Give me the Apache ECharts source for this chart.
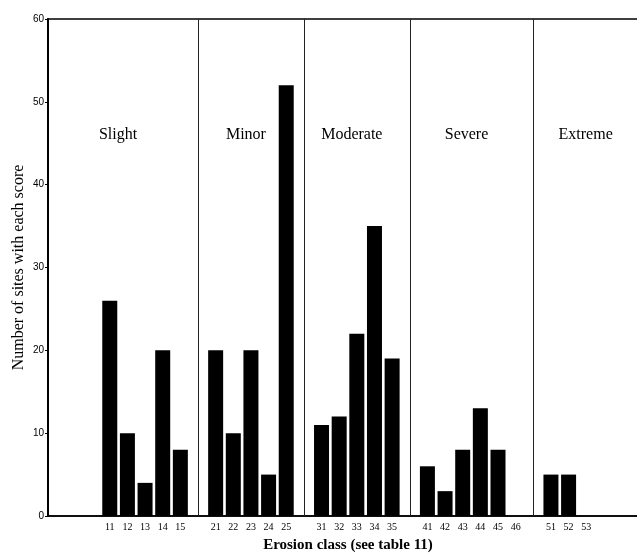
<!DOCTYPE html>
<html lang="en">
<head>
    <meta charset="utf-8" />
    <title>Erosion class</title>
    <script type="text/javascript" src="https://cdn.jsdelivr.net/npm/echarts@6/dist/echarts.min.js"></script>
    <style type="text/css">
        body { margin: 0; background: #fff; }
    </style>
</head>
<body>
    <div id="main" style="width:637px;height:557px;"></div>

    <script type="text/javascript">
        // erosion groups, the class codes in each, and the site counts
        var groupNames = ['Slight', 'Minor', 'Moderate', 'Severe', 'Extreme'];
        var classCodes = [
            ['11', '12', '13', '14', '15'],
            ['21', '22', '23', '24', '25'],
            ['31', '32', '33', '34', '35'],
            ['41', '42', '43', '44', '45', '46'],
            ['51', '52', '53']
        ];
        var siteCounts = [
            [26, 10, 4, 20, 8],
            [20, 10, 20, 5, 52],
            [11, 12, 22, 35, 19],
            [6, 3, 8, 13, 8, 0],
            [5, 5, 0]
        ];
        var yMax = 60;
        var yStep = 10;

        // build the category axis: empty slots before, between groups and after
        var axisCats = ['', '', ''];
        var axisVals = [null, null, null];
        var sepIdx = [];
        for (var g = 0; g < classCodes.length; g++) {
            for (var k = 0; k < classCodes[g].length; k++) {
                axisCats.push(classCodes[g][k]);
                axisVals.push(siteCounts[g][k]);
            }
            if (g < classCodes.length - 1) {
                sepIdx.push(axisCats.length);
                axisCats.push('');
                axisVals.push(null);
            }
        }
        axisCats.push('', '', '');
        axisVals.push(null, null, null);

        var serif = "'Liberation Serif', 'Times New Roman', serif";

        var myChart = echarts.init(document.getElementById('main'));

        var option = {
            animation: false,
            backgroundColor: '#fff',
            grid: {
                left: 48,
                top: 19,
                width: 600,
                height: 497,
                outerBoundsMode: 'none',
                containLabel: false,
                show: true,
                borderColor: '#000',
                borderWidth: 1.5
            },
            xAxis: {
                type: 'category',
                data: axisCats,
                name: 'Erosion class (see table 11)',
                nameLocation: 'middle',
                nameGap: 22,
                nameMoveOverlap: false,
                nameTextStyle: { fontFamily: serif, fontSize: 15, fontWeight: 'bold', color: '#000' },
                axisLine: { lineStyle: { color: '#000', width: 1.5 } },
                axisTick: { length: 3, lineStyle: { color: '#000' } },
                axisLabel: { interval: 0, margin: 6, fontFamily: serif, fontSize: 10, color: '#000' }
            },
            yAxis: {
                type: 'value',
                min: 0,
                max: yMax,
                interval: yStep,
                name: 'Number of sites with each score',
                nameLocation: 'middle',
                nameGap: 21,
                nameMoveOverlap: false,
                nameTextStyle: { fontFamily: serif, fontSize: 16, color: '#000' },
                splitLine: { show: false },
                axisLine: { show: true, lineStyle: { color: '#000', width: 2 } },
                axisTick: { show: true, length: 3, lineStyle: { color: '#000' } },
                axisLabel: { margin: 4, fontFamily: "'Liberation Sans Narrow', 'Liberation Sans', sans-serif", fontSize: 10, color: '#000' }
            },
            series: [{
                type: 'bar',
                data: axisVals,
                barCategoryGap: '15%',
                itemStyle: { color: '#000' },
                markLine: {
                    silent: true,
                    symbol: 'none',
                    label: { show: false },
                    lineStyle: { color: '#222', width: 1, type: 'solid' },
                    data: sepIdx.map(function (i) { return { xAxis: i }; })
                }
            }]
        };
        myChart.setOption(option);

        // group names centred in each band between separators
        var slotW = myChart.convertToPixel({ xAxisIndex: 0 }, 1) - myChart.convertToPixel({ xAxisIndex: 0 }, 0);
        var edges = [myChart.convertToPixel({ xAxisIndex: 0 }, 0) - slotW / 2];
        sepIdx.forEach(function (i) { edges.push(myChart.convertToPixel({ xAxisIndex: 0 }, i)); });
        edges.push(myChart.convertToPixel({ xAxisIndex: 0 }, axisCats.length - 1) + slotW / 2);
        var labelY = myChart.convertToPixel({ yAxisIndex: 0 }, 46);

        var texts = groupNames.map(function (name, g) {
            return {
                type: 'text',
                x: (edges[g] + edges[g + 1]) / 2 - 5,
                y: labelY,
                style: {
                    text: name,
                    font: '16px ' + serif,
                    fill: '#000',
                    align: 'center',
                    verticalAlign: 'middle'
                }
            };
        });
        myChart.setOption({ graphic: texts });
    </script>
</body>
</html>
